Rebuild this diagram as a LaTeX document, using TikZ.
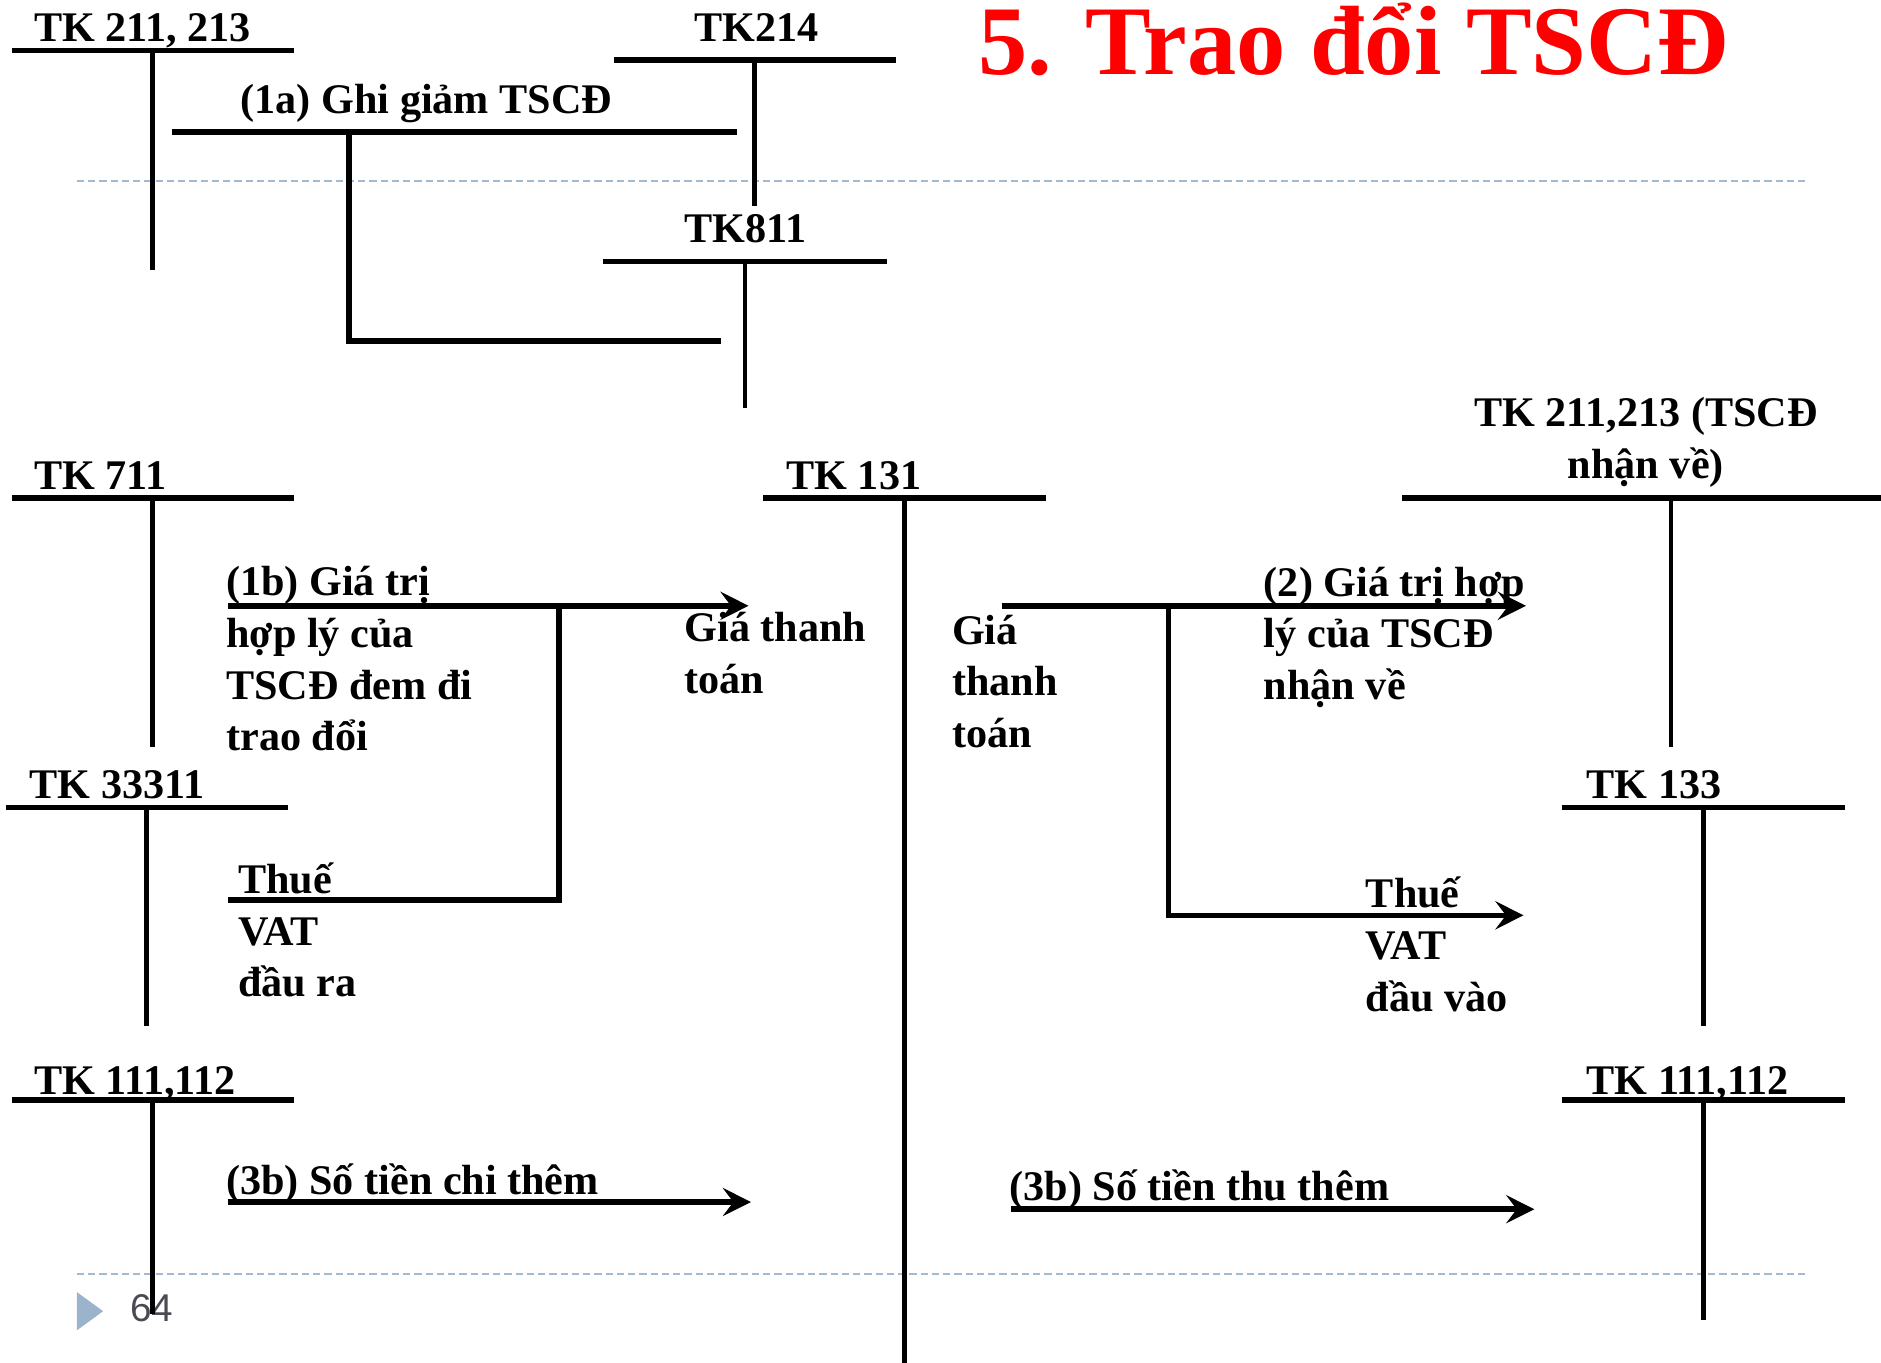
\documentclass[tikz,border=0pt]{standalone}
\usepackage{fontspec}
\setmainfont{Liberation Serif}
\newfontfamily\slidesans{Liberation Sans}
\usetikzlibrary{arrows.meta}
\definecolor{ink}{HTML}{000000}
\definecolor{tRed}{HTML}{FF0000}
\definecolor{sRule}{HTML}{A3B9CF}
\definecolor{sBullet}{HTML}{9BB4CC}
\definecolor{sNum}{HTML}{4A4A55}
\tikzset{
  acct/.style={font=\bfseries\fontsize{12}{14.7}\selectfont, text=ink, inner sep=0pt, anchor=base west, align=left},
  bar/.style={ink, line width=1.6pt},
  stem/.style={ink, line width=1.3pt},
  flow/.style={ink, line width=1.6pt, -{Stealth[length=8pt, width=8pt, inset=3pt]}},
  sep/.style={sRule, line width=0.7pt, dash pattern=on 2.1pt off 1.1pt},
}

\begin{document}
\begin{tikzpicture}[x=0.012cm, y=-0.012cm]
\useasboundingbox (0,0) rectangle (1568,1136);
% slide frame
\draw[sep] (64,151) -- (1505,151);
\draw[sep] (64,1062) -- (1505,1062);
\fill[sBullet] (64,1077) -- (86,1093) -- (64,1109) -- cycle;
\node[anchor=base west, inner sep=0pt, font=\slidesans\fontsize{11}{13}\selectfont, text=sNum] (pg) at (108,1102) {64};
\node[anchor=base west, inner sep=0pt, font=\bfseries\fontsize{28}{30}\selectfont, text=tRed] (title) at (815,62) {5. Trao đổi TSCĐ};
% T accounts: west/east/stem x/top/bottom
\foreach \xw/\xe/\xs/\y/\yb in {10/245/127/42/225, 512/747/629/50/172, 503/739/621/218/340,
    10/245/127/415/623, 636/872/754/415/1136, 1169/1568/1393/415/623,
    5/240/122/673/855, 1302/1538/1420/673/855, 10/245/127/917/1095, 1302/1538/1420/917/1100} {
  \draw[bar] (\xw,\y) -- (\xe,\y);
  \draw[stem] (\xs,\y) -- (\xs,\yb);
}
% multi-line labels sit on the baseline of their last line
\node[acct] (tk211) at (28,35) {TK 211, 213};
\node[acct] (tk214) at (578,35) {TK214};
\node[acct] (tk811) at (570,202) {TK811};
\node[acct] (tk711) at (28,408) {TK 711};
\node[acct] (tk131) at (655,408) {TK 131};
\node[acct, anchor=base, align=center] (tk211n) at (1372,399) {TK 211,213 (TSCĐ\\nhận về)};
\node[acct] (tk33311) at (24,666) {TK 33311};
\node[acct] (tk133) at (1322,666) {TK 133};
\node[acct] (tk111a) at (28,912) {TK 111,112};
\node[acct] (tk111b) at (1322,912) {TK 111,112};
% (1a) ghi giam
\coordinate (a1s) at (143,110);
\coordinate (a1e) at (614,110);
\coordinate (a1k) at (291,110);
\coordinate (a1d) at (601,284);
\draw[bar] (a1s) -- (a1e);
\draw[bar] (a1k) |- (a1d);
\node[acct] (l1a) at (200,95) {(1a) Ghi giảm TSCĐ};
% (1b) TSCD dem di
\coordinate (b1s) at (190,505);
\coordinate (b1t) at (624,505);
\coordinate (b1k) at (466,505);
\coordinate (b1v) at (190,750);
\draw[flow] (b1s) -- (b1t);
\draw[bar] (b1k) |- (b1v);
\node[acct] (l1b) at (188,626) {(1b) Giá trị\\hợp lý của\\TSCĐ đem đi\\trao đổi};
\node[acct] (lgia1) at (570,578) {Giá thanh\\toán};
\node[acct] (lvat1) at (198,831) {Thuế\\VAT\\đầu ra};
% (2) TSCD nhan ve
\coordinate (c2s) at (835,505);
\coordinate (c2t) at (1272,505);
\coordinate (c2k) at (974,505);
\coordinate (c2v) at (1270,763);
\draw[flow] (c2s) -- (c2t);
\draw[flow] (c2k) |- (c2v);
\node[acct] (lgia2) at (793,623) {Giá\\thanh\\toán};
\node[acct] (l2) at (1053,583) {(2) Giá trị hợp\\lý của TSCĐ\\nhận về};
\node[acct] (lvat2) at (1138,843) {Thuế\\VAT\\đầu vào};
% (3b) chenh lech
\coordinate (d3s) at (190,1002);
\coordinate (d3t) at (626,1002);
\coordinate (e3s) at (843,1008);
\coordinate (e3t) at (1279,1008);
\draw[flow] (d3s) -- (d3t);
\draw[flow] (e3s) -- (e3t);
\node[acct] (l3a) at (188,996) {(3b) Số tiền chi thêm};
\node[acct] (l3b) at (841,1001) {(3b) Số tiền thu thêm};
\end{tikzpicture}
\end{document}
